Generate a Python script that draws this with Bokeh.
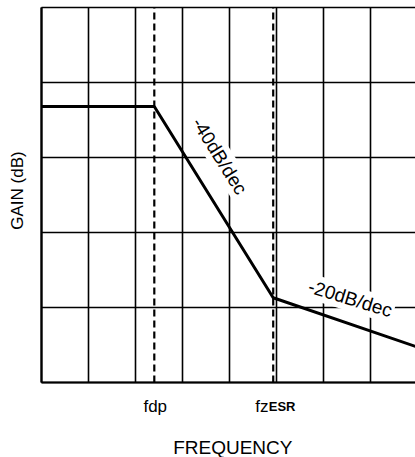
import math
from bokeh.plotting import figure
from bokeh.models import Range1d, Label
from bokeh.embed import file_html
from bokeh.resources import INLINE

# Data (grid units: frequency divisions x gain divisions)
curve_x = [0.0, 2.40, 4.93, 7.96]
curve_y = [3.68, 3.68, 1.13, 0.48]
pole_freqs = [2.40, 4.93]
pole_names = ["fdp", "fz"]
grid_x = [0, 1, 2, 3, 4, 5, 6, 7]
grid_y = [0, 1, 2, 3, 4, 5]
slope_labels = ["-40dB/dec", "-20dB/dec"]
slope_pos_x = [3.79, 6.57]
slope_pos_y = [3.02, 1.12]
slope_angles_deg = [-58, -17]

X_MIN, X_MAX = -41 / 47, 374 / 47
Y_MIN, Y_MAX = -75 / 75, 382 / 75
FONT = "Liberation Sans"

p = figure(width=415, height=457, output_backend="svg", toolbar_location=None,
           x_range=Range1d(X_MIN, X_MAX), y_range=Range1d(Y_MIN, Y_MAX),
           x_axis_location=None, y_axis_location=None,
           min_border=0)
p.outline_line_color = None
p.grid.visible = False
p.background_fill_color = "white"
p.border_fill_color = "white"

# grid
p.segment(x0=grid_x, y0=[grid_y[0]] * len(grid_x), x1=grid_x, y1=[grid_y[-1]] * len(grid_x),
          line_color="black", line_width=1.6)
p.segment(x0=[0] * len(grid_y), y0=grid_y, x1=[X_MAX] * len(grid_y), y1=grid_y,
          line_color="black", line_width=1.6)
# frame left/bottom a bit heavier
p.segment(x0=[0, 0], y0=[0, 0], x1=[0, X_MAX], y1=[grid_y[-1], 0],
          line_color="black", line_width=2.2)

# pole / zero markers
p.segment(x0=pole_freqs, y0=[grid_y[0]] * 2, x1=pole_freqs, y1=[grid_y[-1]] * 2,
          line_color="black", line_width=2.2, line_dash="7 4")

p.line(curve_x, curve_y, line_color="black", line_width=3)

for txt, lx, ly, ang in zip(slope_labels, slope_pos_x, slope_pos_y, slope_angles_deg):
    p.add_layout(Label(x=lx, y=ly, text=txt, angle=math.radians(ang),
                       text_align="center", text_baseline="middle",
                       text_font=FONT, text_font_size="19px", text_color="black",
                       background_fill_color="white", padding=2))

# frequency markers below the grid
p.add_layout(Label(x=pole_freqs[0] + 0.02, y=-0.32, text=pole_names[0], text_align="center",
                   text_baseline="alphabetic", text_font=FONT, text_font_size="17px",
                   text_color="black"))
p.add_layout(Label(x=4.55, y=-0.32, text=pole_names[1], text_align="left",
                   text_baseline="alphabetic", text_font=FONT, text_font_size="17px",
                   text_color="black"))
p.add_layout(Label(x=4.835, y=-0.32, text="ESR", text_align="left",
                   text_baseline="alphabetic", text_font=FONT, text_font_size="13px",
                   text_font_style="bold", text_color="black"))

p.add_layout(Label(x=4.07, y=-0.865, text="FREQUENCY", text_align="center",
                   text_baseline="alphabetic", text_font=FONT, text_font_size="19px",
                   text_color="black"))
p.add_layout(Label(x=-0.52, y=2.56, text="GAIN (dB)", angle=math.pi / 2,
                   text_align="center", text_baseline="middle",
                   text_font=FONT, text_font_size="17px", text_color="black"))

open("out.html", "w").write(file_html(p, INLINE))
